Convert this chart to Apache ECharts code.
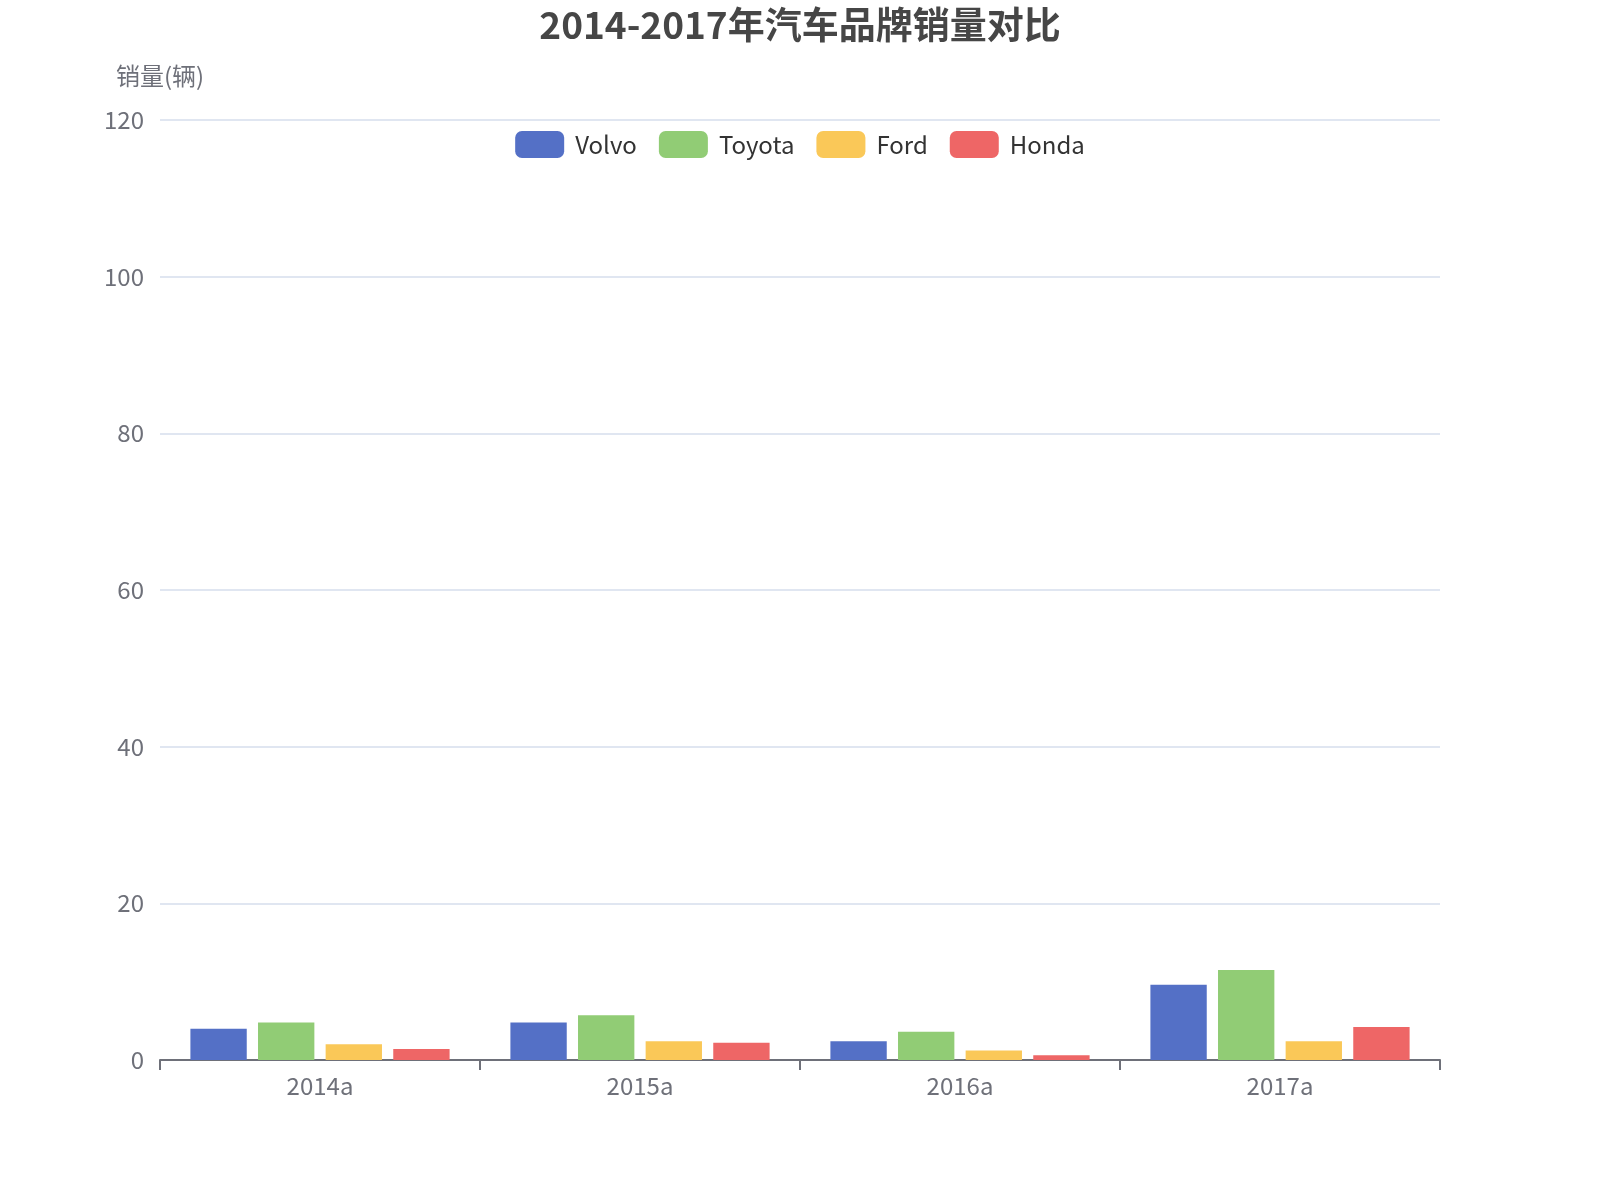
<!DOCTYPE html>
<html>
<head>
<meta charset="utf-8">
<script src="https://cdn.jsdelivr.net/npm/echarts@6/dist/echarts.min.js"></script>
<style>html,body{margin:0;padding:0;background:#fff}#c{width:1600px;height:1200px}</style>
</head>
<body>
<div id="c"></div>
<script>
var categories = ['2014a', '2015a', '2016a', '2017a'];
var seriesNames = ['Volvo', 'Toyota', 'Ford', 'Honda'];
var volvo = [4.0, 4.8, 2.4, 9.6];
var toyota = [4.8, 5.7, 3.6, 11.5];
var ford = [2.0, 2.4, 1.2, 2.4];
var honda = [1.4, 2.2, 0.6, 4.2];
var yTicks = [0, 20, 40, 60, 80, 100, 120];

var font = '"Microsoft YaHei","Noto Sans CJK SC","Noto Sans",sans-serif';
var chart = echarts.init(document.getElementById('c'));
var values = [volvo, toyota, ford, honda];
chart.setOption({
  color: ['#5470c6', '#91cc75', '#fac858', '#ee6666'],
  textStyle: { fontFamily: font },
  title: {
    text: '2014-2017年汽车品牌销量对比',
    left: 'center',
    top: 1,
    textStyle: { fontSize: 37, fontWeight: 'bold', color: '#464646', fontFamily: font }
  },
  legend: {
    data: seriesNames,
    top: 126,
    left: 'center',
    itemWidth: 49,
    itemHeight: 27,
    itemGap: 22,
    textStyle: { fontSize: 24, color: '#333', fontFamily: font, padding: [0, 0, 0, 6] }
  },
  grid: { left: 160, right: 160, top: 120, bottom: 140 },
  xAxis: {
    type: 'category',
    data: categories,
    axisLine: { show: true, lineStyle: { color: '#6E7079', width: 2 } },
    axisTick: { show: true, length: 10, lineStyle: { color: '#6E7079', width: 2 } },
    axisLabel: { fontSize: 24, color: '#6E7079', margin: 14, fontFamily: font }
  },
  yAxis: {
    type: 'value',
    name: '销量(辆)',
    nameGap: 32,
    nameTextStyle: { fontSize: 24, color: '#6E7079', fontFamily: font },
    min: yTicks[0],
    max: yTicks[yTicks.length - 1],
    interval: yTicks[1] - yTicks[0],
    axisLabel: { fontSize: 24, color: '#6E7079', margin: 16, fontFamily: font },
    splitLine: { lineStyle: { color: '#E0E6F1', width: 2 } }
  },
  series: seriesNames.map(function (n, i) {
    return { name: n, type: 'bar', data: values[i], barGap: '20%', barCategoryGap: '19%' };
  })
});
</script>
</body>
</html>
